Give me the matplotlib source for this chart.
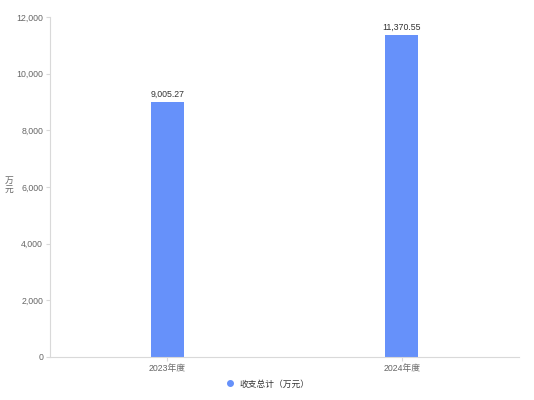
import matplotlib
matplotlib.use("Agg")
import matplotlib.pyplot as plt
from matplotlib.ticker import FuncFormatter
from matplotlib.lines import Line2D

plt.rcParams['font.family'] = ['Liberation Sans', 'Noto Sans CJK SC', 'DejaVu Sans']

categories = ["2023年度", "2024年度"]
values = [9005.27, 11370.55]
series_name = "收支总计（万元）"
yticks = [0, 2000, 4000, 6000, 8000, 10000, 12000]

color = "#6691fa"
axis_color = "#d9d9d9"
text_color = "#666666"

fig = plt.figure(figsize=(5.34, 4.0), dpi=100)
ax = fig.add_axes([50/534, 1-357/400, 469/534, 340/400])

x = list(range(len(categories)))
bars = ax.bar(x, values, width=0.142, color=color, zorder=2)
for xi, v in zip(x, values):
    ax.annotate(f"{v:,.2f}", (xi, v), xytext=(0, 2), textcoords="offset points",
                ha="center", va="bottom", fontsize=6.3, color="#333333")

ax.set_xlim(-0.5, 1.5)
ax.set_ylim(0, 12000)
ax.set_yticks(yticks)
ax.yaxis.set_major_formatter(FuncFormatter(lambda v, p: f"{int(v):,}"))
ax.set_xticks(x)
ax.set_xticklabels(categories)

for s in ["top", "right"]:
    ax.spines[s].set_visible(False)
for s in ["left", "bottom"]:
    ax.spines[s].set_color(axis_color)
    ax.spines[s].set_linewidth(0.8)
ax.tick_params(axis="both", colors=axis_color, labelcolor=text_color, labelsize=6.3, length=3, width=0.8)
ax.tick_params(axis="y", pad=2)
ax.tick_params(axis="x", pad=2)

fig.text(9/534, 1-185/400, "万\n元", ha="center", va="center", fontsize=6.3, color=text_color, linespacing=0.95)

handle = Line2D([], [], marker="o", linestyle="none", color=color, markersize=4)
fig.legend([handle], [series_name], loc="center", bbox_to_anchor=(265/534, 1-384/400),
           frameon=False, fontsize=6.3, handletextpad=0.1, labelcolor="#333333")

fig.savefig("out.png", dpi=100)
